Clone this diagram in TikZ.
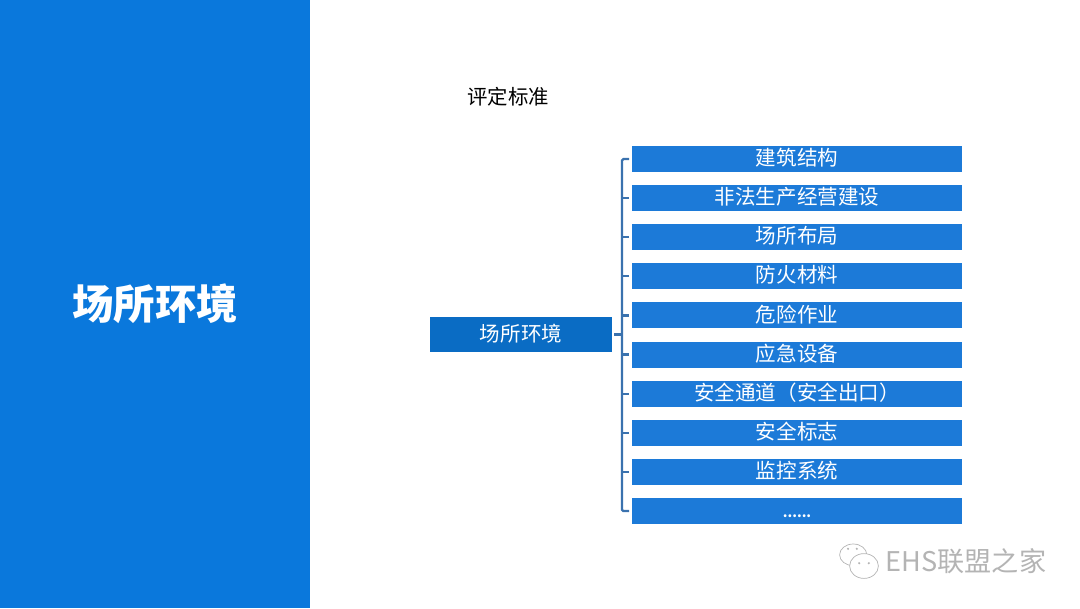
\documentclass[tikz,border=0pt]{standalone}
\usepackage{fontspec}
\setmainfont{Noto Sans CJK SC}
\usepackage{tikz}
\usetikzlibrary{positioning}
\definecolor{panelblue}{HTML}{0A78DC}
\definecolor{itemblue}{HTML}{1C7AD8}
\definecolor{rootblue}{HTML}{0A6CC4}
\definecolor{linkblue}{HTML}{3A72AE}
\definecolor{markgray}{HTML}{B4B4B4}

\begin{document}
\begin{tikzpicture}[node distance=0.328cm,
  b/.style={fill=itemblue, text=white, minimum width=8.25cm, minimum height=0.65cm,
    inner sep=0pt, outer sep=0pt, font=\fontsize{14.6}{16}\selectfont,
    text height=0.38cm, text depth=0.05cm},
  link/.style={draw=linkblue, line width=1.6pt}]
  \useasboundingbox (0,0) rectangle (27,15.2);
  \node[fill=panelblue, text=white, minimum width=7.75cm, minimum height=15.2cm,
    inner sep=0pt, font=\fontsize{29.4}{32}\selectfont\bfseries] (panel) at (3.875,7.6) {\raisebox{-0.7pt}{场所环境}};
  \node[font=\fontsize{14.5}{16}\selectfont] (title) at (12.7,12.775) {评定标准};
  \node[b, fill=rootblue, minimum width=4.55cm, minimum height=0.875cm] (root) at (13.025,6.84) {场所环境};
  \node[b] (b1) at (19.925,11.225) {建筑结构};
  \node[b, below=of b1] (b2) {非法生产经营建设};
  \node[b, below=of b2] (b3) {场所布局};
  \node[b, below=of b3] (b4) {防火材料};
  \node[b, below=of b4] (b5) {危险作业};
  \node[b, below=of b5] (b6) {应急设备};
  \node[b, below=of b6] (b7) {安全通道（安全出口）};
  \node[b, below=of b7] (b8) {安全标志};
  \node[b, below=of b8] (b9) {监控系统};
  \node[b, below=of b9, font=\fontsize{9.6}{16}\selectfont\bfseries] (b10) {......};
  \coordinate (top) at ([xshift=-0.25cm]b1.west);
  \coordinate (bot) at ([xshift=-0.25cm]b10.west);
  \draw[link, rounded corners=1pt, shorten <=0.07cm, shorten >=0.07cm] (b1.west) -- (top) -- (bot) -- (b10.west);
  \foreach \i in {2,...,9}
    \draw[link, shorten <=0.07cm] (b\i.west) -- (top |- b\i.west);
  \draw[link, shorten <=0.05cm] (root.east) -- (top |- root.east);
  % watermark
  \node[text=markgray, font=\fontsize{19.3}{21}\selectfont, inner sep=0pt] (mark) at (24.15,1.175) {EHS联盟之家};
  \draw[markgray, line width=0.5pt] (21.33,1.33) ellipse (0.34cm and 0.27cm);
  \draw[markgray, fill=white, line width=0.5pt] (21.6,1.05) ellipse (0.36cm and 0.31cm);
  \fill[markgray] (21.2,1.48) circle (0.03cm) (21.42,1.48) circle (0.03cm)
    (21.48,1.12) circle (0.03cm) (21.72,1.12) circle (0.03cm);
\end{tikzpicture}
\end{document}
